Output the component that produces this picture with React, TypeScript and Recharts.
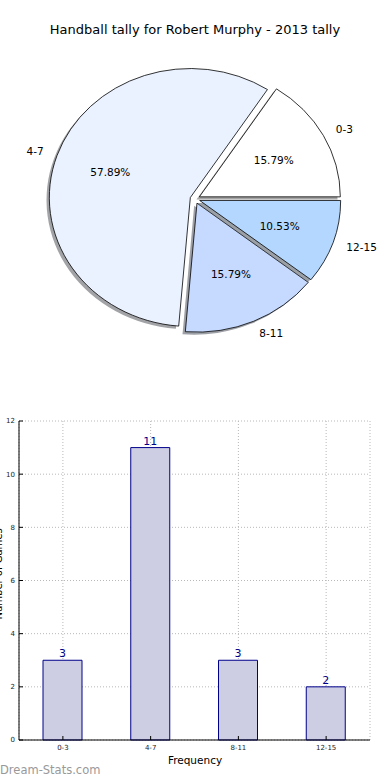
import { PieChart, Pie, BarChart, Bar, XAxis, YAxis, CartesianGrid, LabelList } from 'recharts';

const categories = ['0-3', '4-7', '8-11', '12-15'];
const counts = [3, 11, 3, 2];
const sliceColors = ['#ffffff', '#eaf1ff', '#c6d9ff', '#b3d7ff'];
const yTicks = [0, 2, 4, 6, 8, 10, 12];

const FONT = '"DejaVu Sans", sans-serif';
const ASPECT = 0.915; // pie is drawn slightly squashed, like the source
const EXPLODE = 0.035;
const RAD = Math.PI / 180;

const pieData = categories.map((c, i) => ({ name: c, value: counts[i], fill: sliceColors[i] }));
const barData = categories.map((c, i) => ({ name: c, value: counts[i] }));

function wedgePath(x0: number, y0: number, rx: number, ry: number, s: number, e: number) {
  const sx = x0 + rx * Math.cos(s * RAD);
  const sy = y0 - ry * Math.sin(s * RAD);
  const ex = x0 + rx * Math.cos(e * RAD);
  const ey = y0 - ry * Math.sin(e * RAD);
  const large = e - s > 180 ? 1 : 0;
  return `M${x0},${y0} L${sx},${sy} A${rx},${ry} 0 ${large} 0 ${ex},${ey} Z`;
}

function shadowColor(hex: string) {
  const n = parseInt(hex.slice(1), 16);
  const r = Math.round(((n >> 16) & 255) * 0.3);
  const g = Math.round(((n >> 8) & 255) * 0.3);
  const b = Math.round((n & 255) * 0.3);
  return `rgb(${r},${g},${b})`;
}

const EllipseWedge = (p: any) => {
  const { cx, cy, outerRadius, startAngle, endAngle, fill } = p;
  const mid = (startAngle + endAngle) / 2;
  const rx = outerRadius;
  const ry = outerRadius * ASPECT;
  const ox = cx + EXPLODE * rx * Math.cos(mid * RAD);
  const oy = cy - EXPLODE * ry * Math.sin(mid * RAD);
  return (
    <g>
      <path
        d={wedgePath(ox - 0.02 * rx, oy + 0.02 * ry, rx, ry, startAngle, endAngle)}
        fill={shadowColor(fill)}
        fillOpacity={0.5}
        stroke="none"
      />
      <path d={wedgePath(ox, oy, rx, ry, startAngle, endAngle)} fill={fill} stroke="#000" strokeWidth={0.8} />
    </g>
  );
};

const PieLabels = (p: any) => {
  const { cx, cy, outerRadius, midAngle, percent, name } = p;
  const rx = outerRadius;
  const ry = outerRadius * ASPECT;
  const c = Math.cos(midAngle * RAD);
  const s = Math.sin(midAngle * RAD);
  const ox = cx + EXPLODE * rx * c;
  const oy = cy - EXPLODE * ry * s;
  return (
    <g style={{ fontFamily: FONT, fontSize: 10.5 }}>
      <text x={ox + 0.6 * rx * c} y={oy - 0.6 * ry * s} textAnchor="middle" dominantBaseline="central" fill="#000">
        {(percent * 100).toFixed(2)}%
      </text>
      <text
        x={ox + 1.1 * rx * c}
        y={oy - 1.1 * ry * s}
        textAnchor={c >= 0 ? 'start' : 'end'}
        dominantBaseline="central"
        fill="#000"
      >
        {name}
      </text>
    </g>
  );
};

const blank = () => '';

export default function App() {
  return (
    <div style={{ position: 'absolute', left: 0, top: 0, width: 390, height: 780, background: '#fff', fontFamily: FONT }}>
      <div style={{ position: 'absolute', top: 22, left: 0, width: 390, textAlign: 'center', fontSize: 13, color: '#000' }}>
        Handball tally for Robert Murphy - 2013 tally
      </div>

      <div style={{ position: 'absolute', top: 0, left: 0 }}>
        <PieChart width={390} height={370} margin={{ top: 0, right: 0, bottom: 0, left: 0 }}>
          <Pie
            data={pieData}
            dataKey="value"
            nameKey="name"
            cx={195}
            cy={199}
            outerRadius={141}
            startAngle={0}
            endAngle={360}
            isAnimationActive={false}
            shape={EllipseWedge}
            label={PieLabels}
            labelLine={false}
            stroke="none"
          />
        </PieChart>
      </div>

      <div style={{ position: 'absolute', top: 400, left: 0 }}>
        <BarChart width={390} height={380} data={barData} margin={{ top: 21, right: 20, left: 0, bottom: 0 }}>
          <CartesianGrid stroke="#b8b8b8" strokeDasharray="1 2" />
          <XAxis
            dataKey="name"
            axisLine={{ stroke: '#000' }}
            tickLine={{ stroke: '#000' }}
            tickSize={-4}
            tickMargin={9}
            tick={{ fontSize: 7, fill: '#222' }}
            height={40}
            interval={0}
          />
          <XAxis
            xAxisId="top"
            dataKey="name"
            orientation="top"
            height={0}
            tickFormatter={blank}
            tickLine={{ stroke: '#000' }}
            tickSize={-4}
            axisLine={{ stroke: '#000' }}
            interval={0}
          />
          <YAxis
            domain={[0, 12]}
            ticks={yTicks}
            width={19}
            axisLine={{ stroke: '#000' }}
            tickLine={{ stroke: '#000' }}
            tickSize={-4}
            tickMargin={8}
            tick={{ fontSize: 7, fill: '#222' }}
          />
          <YAxis
            yAxisId="right"
            orientation="right"
            width={0}
            domain={[0, 12]}
            ticks={yTicks}
            tickFormatter={blank}
            tickLine={{ stroke: '#000' }}
            tickSize={-4}
            axisLine={{ stroke: '#000' }}
          />
          <Bar dataKey="value" fill="#cdcde3" stroke="#00008b" strokeWidth={1} barSize={39} isAnimationActive={false}>
            <LabelList dataKey="value" position="top" offset={3} fill="#00008b" fontSize={11} />
          </Bar>
        </BarChart>
      </div>

      <div
        style={{
          position: 'absolute',
          left: -42,
          top: 574,
          width: 80,
          textAlign: 'center',
          fontSize: 10,
          transform: 'rotate(-90deg)',
          color: '#000',
          whiteSpace: 'nowrap',
        }}
      >
        Number of Games
      </div>
      <div style={{ position: 'absolute', top: 754, left: 0, width: 390, textAlign: 'center', fontSize: 10.5, color: '#000' }}>
        Frequency
      </div>
      <div style={{ position: 'absolute', top: 763, left: 0, fontSize: 11.5, color: '#999' }}>Dream-Stats.com</div>
    </div>
  );
}
